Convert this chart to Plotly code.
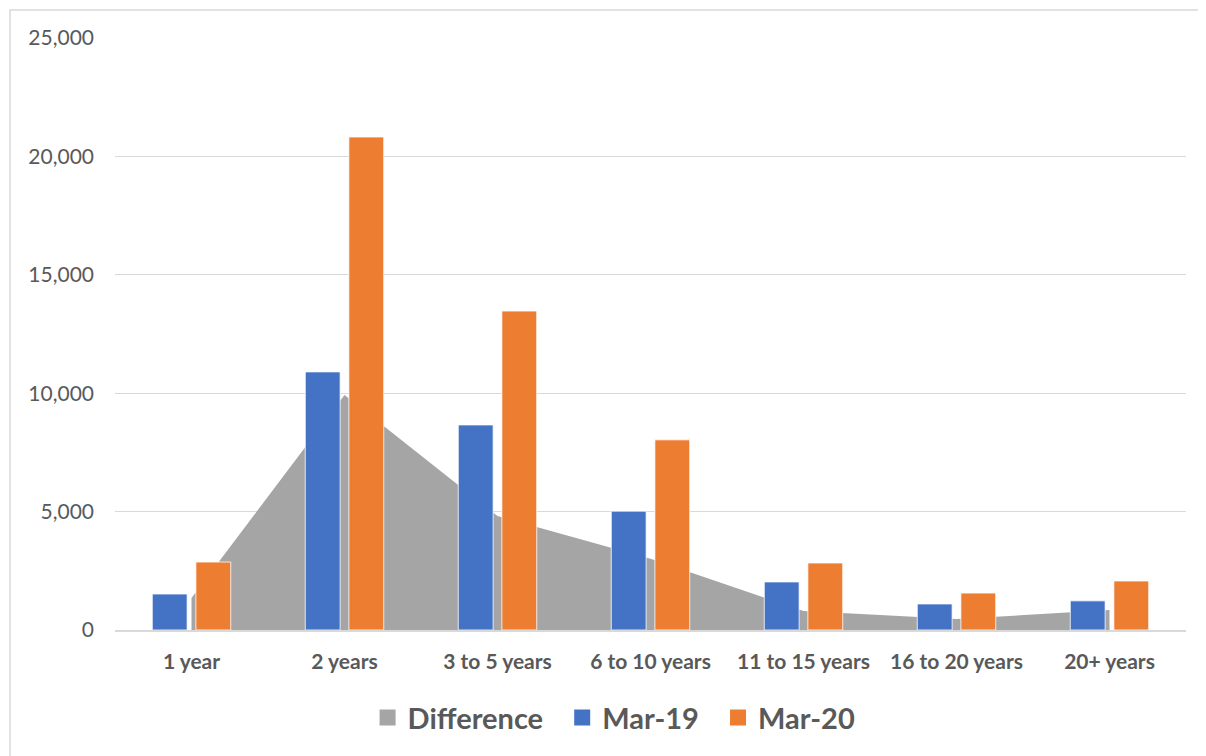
import plotly.graph_objects as go

categories = ["1 year", "2 years", "3 to 5 years", "6 to 10 years", "11 to 15 years", "16 to 20 years", "20+ years"]
mar19 = [1520, 10900, 8660, 5020, 2030, 1100, 1230]
mar20 = [2870, 20820, 13470, 8030, 2830, 1560, 2070]
difference = [1350, 9920, 4810, 3010, 800, 460, 840]
y_ticks = [0, 5000, 10000, 15000, 20000, 25000]
y_tick_labels = ["0", "5,000", "10,000", "15,000", "20,000", "25,000"]
legend_names = ["Difference", "Mar-19", "Mar-20"]

FONT = "Lato"
GRAY = "#a5a5a5"
BLUE = "#4472c4"
ORANGE = "#ed7d31"

fig = go.Figure()
# area (base axis, drawn below the bars)
fig.add_trace(go.Scatter(x=categories, y=difference, name="Difference", mode="lines",
                         line=dict(width=0, color=GRAY), fill="tozeroy",
                         fillcolor=GRAY, showlegend=False, yaxis="y"))
# bars on overlaying axis (drawn on top)
fig.add_trace(go.Bar(x=categories, y=mar19, name="Mar-19", yaxis="y2", showlegend=False,
                     marker=dict(color=BLUE, line=dict(color="white", width=0.8))))
fig.add_trace(go.Bar(x=categories, y=mar20, name="Mar-20", yaxis="y2", showlegend=False,
                     marker=dict(color=ORANGE, line=dict(color="white", width=0.8))))
# legend entries with square symbols
pad = "\u00a0\u00a0"
for i, (nm, col) in enumerate(zip(legend_names, [GRAY, BLUE, ORANGE])):
    label = nm + (pad if i < len(legend_names) - 1 else "")
    fig.add_trace(go.Scatter(x=[categories[0]], y=[None], name=label, mode="markers",
                             marker=dict(symbol="square", size=17, color=col), yaxis="y"))

fig.update_layout(
    width=1198, height=748,
    margin=dict(l=107, r=20, t=30, b=126),
    paper_bgcolor="white", plot_bgcolor="white",
    barmode="group", bargap=0.43, bargroupgap=0.2,
    showlegend=True,
    legend=dict(orientation="h", x=0.466, xanchor="center", y=-0.148, yanchor="middle",
                font=dict(family=FONT, size=29, color="#595959", weight="bold"),
                traceorder="normal", itemwidth=30, tracegroupgap=0),
    xaxis=dict(type="category", categoryorder="array", categoryarray=categories,
               showgrid=False, showline=True, linecolor="#d9d9d9", linewidth=1.5,
               ticks="", tickfont=dict(family=FONT, size=21, color="#595959", weight="bold"),
               ticklabelstandoff=12),
    yaxis=dict(range=[0, 25000], tickvals=y_ticks, ticktext=y_tick_labels,
               showgrid=True, gridcolor="#d9d9d9", gridwidth=1, zeroline=False,
               showline=False, ticks="", ticklabelstandoff=20,
               tickfont=dict(family=FONT, size=21, color="#595959")),
    yaxis2=dict(range=[0, 25000], overlaying="y", side="left", showgrid=False,
                zeroline=False, showline=False, showticklabels=False, ticks=""),
    shapes=[dict(type="rect", xref="paper", yref="paper",
                 x0=-105/1071, x1=1+40/1071, y0=-160/592, y1=1+28/592,
                 line=dict(color="#d9d9d9", width=1.5), fillcolor="rgba(0,0,0,0)", layer="below")],
)
fig.write_html("out.html")
